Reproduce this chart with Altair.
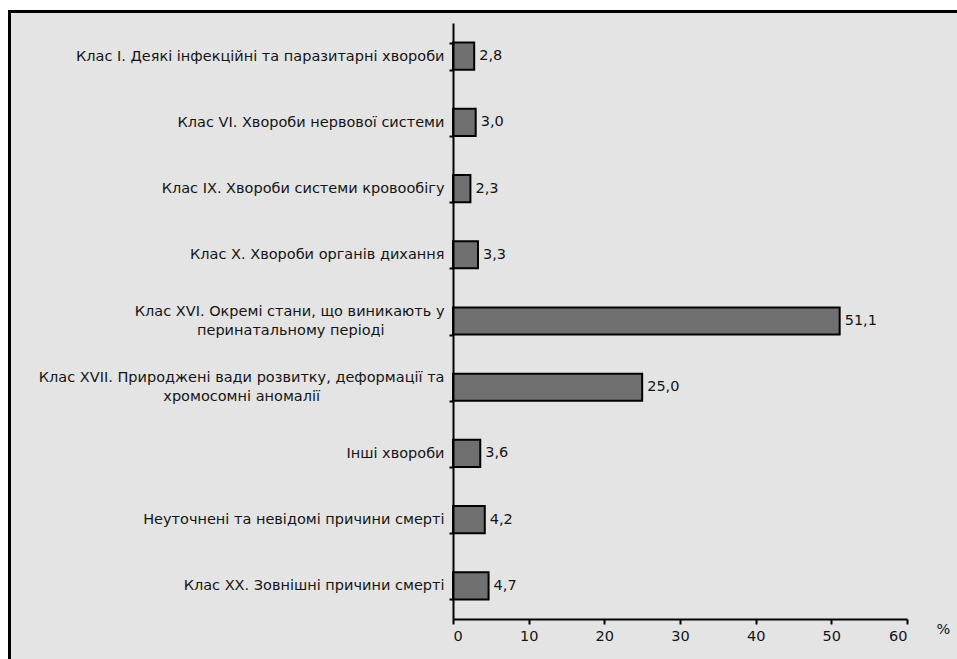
import json
import altair as alt
import pandas as pd

NB = "\u00a0"
ZW = "\u200b"

# Causes of death (ICD classes) and their share, %
categories = [
    "Клас I. Деякі інфекційні та паразитарні хвороби",
    "Клас VI. Хвороби нервової системи",
    "Клас IX. Хвороби системи кровообігу",
    "Клас X. Хвороби органів дихання",
    "Клас XVI. Окремі стани, що виникають у\nперинатальному періоді",
    "Клас XVII. Природжені вади розвитку, деформації та\nхромосомні аномалії",
    "Інші хвороби",
    "Неуточнені та невідомі причини смерті",
    "Клас XX. Зовнішні причини смерті",
]
values = [2.8, 3.0, 2.3, 3.3, 51.1, 25.0, 3.6, 4.2, 4.7]

# second lines of two-line labels are padded so they sit centred under the first line
second_line_pad = {4: 13, 5: 27}


def axis_label(i, text):
    if "\n" not in text:
        return [text]
    first, second = text.split("\n")
    return [first, second + NB * second_line_pad.get(i, 0) + ZW]


keys = [f"c{i}" for i in range(len(categories))]
label_map = {k: axis_label(i, t) for i, (k, t) in enumerate(zip(keys, categories))}
two_line = [k for k, v in label_map.items() if len(v) > 1]

df = pd.DataFrame({"key": keys, "value": values})

label_expr = " : ".join(
    f"datum.value === '{k}' ? {json.dumps(v, ensure_ascii=False)}"
    for k, v in label_map.items()
) + " : ''"
two_line_test = " || ".join(f"datum.value === '{k}'" for k in two_line)

FONT = "DejaVu Sans"
TXT = "#141414"
FS = 14.5
NUM_FS = 14.5
LH = 19

y_enc = alt.Y(
    "key:N",
    sort=keys,
    scale=alt.Scale(paddingInner=0.59, paddingOuter=0.295),
    axis=alt.Axis(
        title=None,
        labelExpr=label_expr,
        labelFont=FONT,
        labelFontSize=FS,
        labelColor=TXT,
        labelPadding=5,
        labelLimit=500,
        labelLineHeight=LH,
        labelOffset={"condition": {"test": two_line_test, "value": -LH / 2}, "value": 0},
        tickBand="extent",
        tickSize=4,
        tickWidth=2,
        tickColor="black",
        domainColor="black",
        domainWidth=2,
        zindex=1,
    ),
)

x_enc = alt.X(
    "value:Q",
    scale=alt.Scale(domain=[0, 60], nice=False),
    axis=alt.Axis(
        values=[0, 10, 20, 30, 40, 50, 60],
        format="d",
        title="%",
        titleAngle=0,
        titleX=490,
        titleY=3,
        titleAlign="center",
        titleBaseline="top",
        titleFont=FONT,
        titleFontSize=NUM_FS,
        titleFontWeight="normal",
        titleColor=TXT,
        labelFont=FONT,
        labelFontSize=NUM_FS,
        labelColor=TXT,
        labelPadding=5,
        tickSize=5,
        tickWidth=2,
        tickColor="black",
        domainColor="black",
        domainWidth=2,
        grid=False,
        zindex=1,
    ),
)

frame_df = pd.DataFrame({"f": [0]})
frame_outer = alt.Chart(frame_df).mark_rect(color="black").encode(
    x=alt.value(-445), x2=alt.value(520), y=alt.value(-13), y2=alt.value(660)
)
frame_inner = alt.Chart(frame_df).mark_rect(color="#e4e4e4").encode(
    x=alt.value(-442), x2=alt.value(520), y=alt.value(-10), y2=alt.value(660)
)

base = alt.Chart(df)

bars = base.mark_bar(
    color="#707070", stroke="black", strokeWidth=2
).encode(x=x_enc, y=y_enc)

labels = base.transform_calculate(
    txt="replace(format(datum.value, '.1f'), '.', ',')"
).mark_text(
    align="left", baseline="middle", dx=5, font=FONT, fontSize=NUM_FS, color=TXT
).encode(x="value:Q", y=alt.Y("key:N", sort=keys), text="txt:N")

chart = (
    alt.layer(frame_outer, frame_inner, bars, labels)
    .properties(
        width=454,
        height=596,
        padding={"left": 453, "top": 23, "right": 50, "bottom": 40},
        autosize=alt.AutoSizeParams(type="none"),
        background="white",
    )
    .configure_view(stroke=None)
)

chart.save("out.html", embed_options={"renderer": "svg", "actions": False})
